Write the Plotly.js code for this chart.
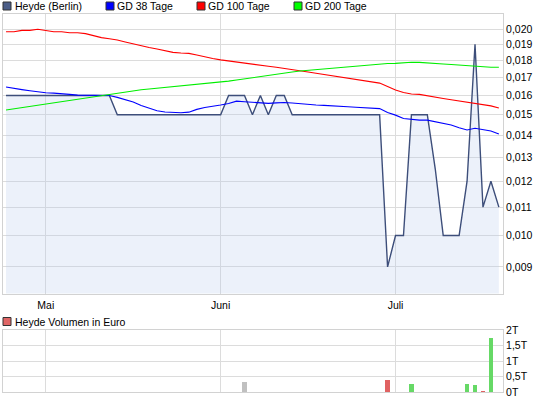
<!DOCTYPE html>
<html>
<head>
<meta charset="utf-8">
<script src="https://cdn.plot.ly/plotly-3.0.1.min.js"></script>
<style>html,body{margin:0;padding:0;background:#fff;}#chart{width:545px;height:398px;}</style>
</head>
<body>
<div id="chart"></div>
<script>
// Trading days (category axis)
var dates = [
 '2011-04-25','2011-04-26','2011-04-27','2011-04-28','2011-04-29',
 '2011-05-02','2011-05-03','2011-05-04','2011-05-05','2011-05-06',
 '2011-05-09','2011-05-10','2011-05-11','2011-05-12','2011-05-13',
 '2011-05-16','2011-05-17','2011-05-18','2011-05-19','2011-05-20',
 '2011-05-23','2011-05-24','2011-05-25','2011-05-26','2011-05-27',
 '2011-05-30','2011-05-31',
 '2011-06-01','2011-06-02','2011-06-03',
 '2011-06-06','2011-06-07','2011-06-08','2011-06-09','2011-06-10',
 '2011-06-13','2011-06-14','2011-06-15','2011-06-16','2011-06-17',
 '2011-06-20','2011-06-21','2011-06-22','2011-06-23','2011-06-24',
 '2011-06-27','2011-06-28','2011-06-29','2011-06-30',
 '2011-07-01',
 '2011-07-04','2011-07-05','2011-07-06','2011-07-07','2011-07-08',
 '2011-07-11','2011-07-12','2011-07-13','2011-07-14','2011-07-15',
 '2011-07-18','2011-07-19','2011-07-20'
];

var price = [
 0.016,0.016,0.016,0.016,0.016,0.016,0.016,0.016,0.016,0.016,0.016,0.016,0.016,0.016,
 0.015,0.015,0.015,0.015,0.015,0.015,0.015,0.015,0.015,0.015,0.015,0.015,0.015,0.015,
 0.016,0.016,0.016,0.015,0.016,0.015,0.016,0.016,
 0.015,0.015,0.015,0.015,0.015,0.015,0.015,0.015,0.015,0.015,0.015,0.015,
 0.009,0.010,0.010,0.015,0.015,0.015,0.0125,0.010,0.010,0.010,0.012,0.019,0.011,0.012,0.011
];

var gd38 = [
 0.01646,0.01641,0.01632,0.01626,0.01619,0.01615,0.01613,0.01611,0.01606,0.01602,
 0.01601,0.01601,0.01600,0.01600,0.01590,0.01578,0.01565,0.01547,0.01534,0.01520,
 0.01514,0.01512,0.01510,0.01513,0.01527,0.01537,0.01542,0.01550,0.01558,0.01570,
 0.01567,0.01563,0.01560,0.01558,0.01561,0.01563,0.01560,0.01556,0.01553,0.01550,
 0.01548,0.01547,0.01545,0.01541,0.01538,0.01536,0.01533,0.01531,0.01511,0.01498,
 0.01481,0.01477,0.01473,0.01473,0.01466,0.01457,0.01449,0.01436,0.01425,0.01433,
 0.01427,0.01420,0.01406
];

var gd100 = [
 0.01982,0.01982,0.01991,0.01991,0.01998,0.01991,0.01982,0.01982,0.01975,0.01975,
 0.01969,0.01956,0.01943,0.01936,0.01928,0.01915,0.01902,0.01894,0.01880,0.01870,
 0.01858,0.01849,0.01845,0.01843,0.01833,0.01821,0.01812,0.01803,0.01796,0.01791,
 0.01784,0.01776,0.01770,0.01765,0.01759,0.01751,0.01743,0.01737,0.01731,0.01724,
 0.01717,0.01708,0.01702,0.01696,0.01691,0.01682,0.01677,0.01668,0.01649,0.01630,
 0.01616,0.01608,0.01606,0.01600,0.01590,0.01584,0.01577,0.01570,0.01565,0.01558,
 0.01552,0.01545,0.01534
];

var gd200 = [
 0.01524,0.01530,0.01536,0.01542,0.01548,0.01555,0.01561,0.01568,0.01574,0.01581,
 0.01587,0.01594,0.01600,0.01607,0.01613,0.01620,0.01626,0.01631,0.01635,0.01639,
 0.01643,0.01647,0.01651,0.01655,0.01659,0.01664,0.01668,0.01672,0.01679,0.01685,
 0.01692,0.01698,0.01705,0.01711,0.01718,0.01724,0.01731,0.01737,0.01741,0.01746,
 0.01750,0.01754,0.01759,0.01763,0.01767,0.01772,0.01776,0.01780,0.01781,0.01782,
 0.01786,0.01789,0.01788,0.01786,0.01782,0.01778,0.01775,0.01771,0.01768,0.01764,
 0.01761,0.01759,0.01759
];

// Volume (in T)
var volDates = ['2011-06-06','2011-06-30','2011-07-05','2011-07-14','2011-07-15','2011-07-18','2011-07-19'];
var volValues = [0.33, 0.40, 0.245, 0.245, 0.21, 0.035, 1.74];

var priceTicks = [0.009,0.010,0.011,0.012,0.013,0.014,0.015,0.016,0.017,0.018,0.019,0.020];
var monthTickDates = ['2011-05-02','2011-06-01','2011-07-01'];
var monthTickLabels = ['Mai','Juni','Juli'];

var legendNames = ['Heyde (Berlin)','GD 38 Tage','GD 100 Tage','GD 200 Tage'];
var volumeName = 'Heyde Volumen in Euro';

// colours of volume bars from price change
var volColors = volDates.map(function(d){
  var i = dates.indexOf(d);
  var prev = price[i-1], cur = price[i];
  if (cur > prev) return '#66d966';
  if (cur < prev) return '#e06262';
  return '#c0c0c0';
});

var FONT = 'Liberation Sans, Arial, sans-serif';
var priceColor = '#3d4e7a';

var traces = [
  {x: dates, y: price, type: 'scatter', mode: 'lines', name: legendNames[0],
   line: {color: priceColor, width: 1.4}, fill: 'tozeroy', fillcolor: 'rgba(180,200,235,0.25)',
   xaxis: 'x', yaxis: 'y'},
  {x: dates, y: gd38, type: 'scatter', mode: 'lines', name: legendNames[1],
   line: {color: '#0000ff', width: 1.1}, xaxis: 'x', yaxis: 'y'},
  {x: dates, y: gd100, type: 'scatter', mode: 'lines', name: legendNames[2],
   line: {color: '#ff0000', width: 1.1}, xaxis: 'x', yaxis: 'y'},
  {x: dates, y: gd200, type: 'scatter', mode: 'lines', name: legendNames[3],
   line: {color: '#00ee00', width: 1.1}, xaxis: 'x', yaxis: 'y'},
  {x: volDates, y: volValues, type: 'bar', name: volumeName, width: 0.53,
   marker: {color: volColors}, xaxis: 'x2', yaxis: 'y2'}
];

// pixel -> paper helpers (plot area: x 3..503, y 14..392)
function px(x){ return (x - 3) / 500; }
function py(y){ return (392 - y) / 378; }

var gridC = '#dcdcdc', lineC = '#d2d2d2';
var shapes = [], annotations = [];
var legendItems = [
  {sx: 3, tx: 15, fill: '#4b5d87', text: legendNames[0]},
  {sx: 106, tx: 117, fill: '#0000ff', text: legendNames[1]},
  {sx: 197, tx: 208, fill: '#ff0000', text: legendNames[2]},
  {sx: 294, tx: 305, fill: '#00ff00', text: legendNames[3]}
];
legendItems.forEach(function(it){
  shapes.push({type: 'rect', xref: 'paper', yref: 'paper', x0: px(it.sx), x1: px(it.sx + 8),
    y0: py(10), y1: py(2), fillcolor: it.fill, line: {color: '#333333', width: 1}});
  annotations.push({xref: 'paper', yref: 'paper', x: px(it.tx - 2), y: py(6.3), xanchor: 'left', yanchor: 'middle',
    text: it.text, showarrow: false, font: {family: FONT, size: 10.5, color: '#000'}});
});
shapes.push({type: 'rect', xref: 'paper', yref: 'paper', x0: px(3), x1: px(11),
  y0: py(325.5), y1: py(317.5), fillcolor: '#e06666', line: {color: '#333333', width: 1}});
annotations.push({xref: 'paper', yref: 'paper', x: px(13), y: py(321.5), xanchor: 'left', yanchor: 'middle',
  text: volumeName, showarrow: false, font: {family: FONT, size: 10.5, color: '#000'}});

var xCommon = {
  type: 'category', categoryorder: 'array', categoryarray: dates,
  range: [-0.38, 62.52], tickmode: 'array', tickvals: monthTickDates, ticktext: monthTickLabels,
  showgrid: true, gridcolor: gridC, gridwidth: 1, showline: true, mirror: true, linecolor: lineC, linewidth: 1,
  ticks: '', zeroline: false, fixedrange: true, tickfont: {family: FONT, size: 10.5, color: '#000'}
};

var layout = {
  width: 545, height: 398,
  margin: {l: 3, r: 42, t: 14, b: 6},
  paper_bgcolor: '#ffffff', plot_bgcolor: '#ffffff',
  separators: ',.',
  showlegend: false,
  bargap: 0,
  font: {family: FONT, size: 10.5, color: '#000'},
  xaxis: Object.assign({}, xCommon, {anchor: 'y', domain: [0, 1], ticklabelstandoff: 2}),
  xaxis2: Object.assign({}, xCommon, {anchor: 'y2', domain: [0, 1], showticklabels: false}),
  yaxis: {
    type: 'log', domain: [py(293.5), 1], range: [-2.0845, -1.6771], side: 'right',
    tickmode: 'array', tickvals: priceTicks, tickformat: '.3f',
    showgrid: true, gridcolor: gridC, showline: true, mirror: true, linecolor: lineC,
    ticks: '', zeroline: false, tickfont: {family: FONT, size: 10.5, color: '#000'}, anchor: 'x'
  },
  yaxis2: {
    domain: [0, py(330)], range: [0, 2], side: 'right', tick0: 0, dtick: 0.5, ticksuffix: 'T',
    showgrid: true, gridcolor: gridC, showline: true, mirror: true, linecolor: lineC,
    ticks: '', zeroline: false, tickfont: {family: FONT, size: 10.5, color: '#000'}, anchor: 'x2'
  },
  shapes: shapes,
  annotations: annotations
};

Plotly.newPlot('chart', traces, layout, {displayModeBar: false, staticPlot: true});
</script>
</body>
</html>
